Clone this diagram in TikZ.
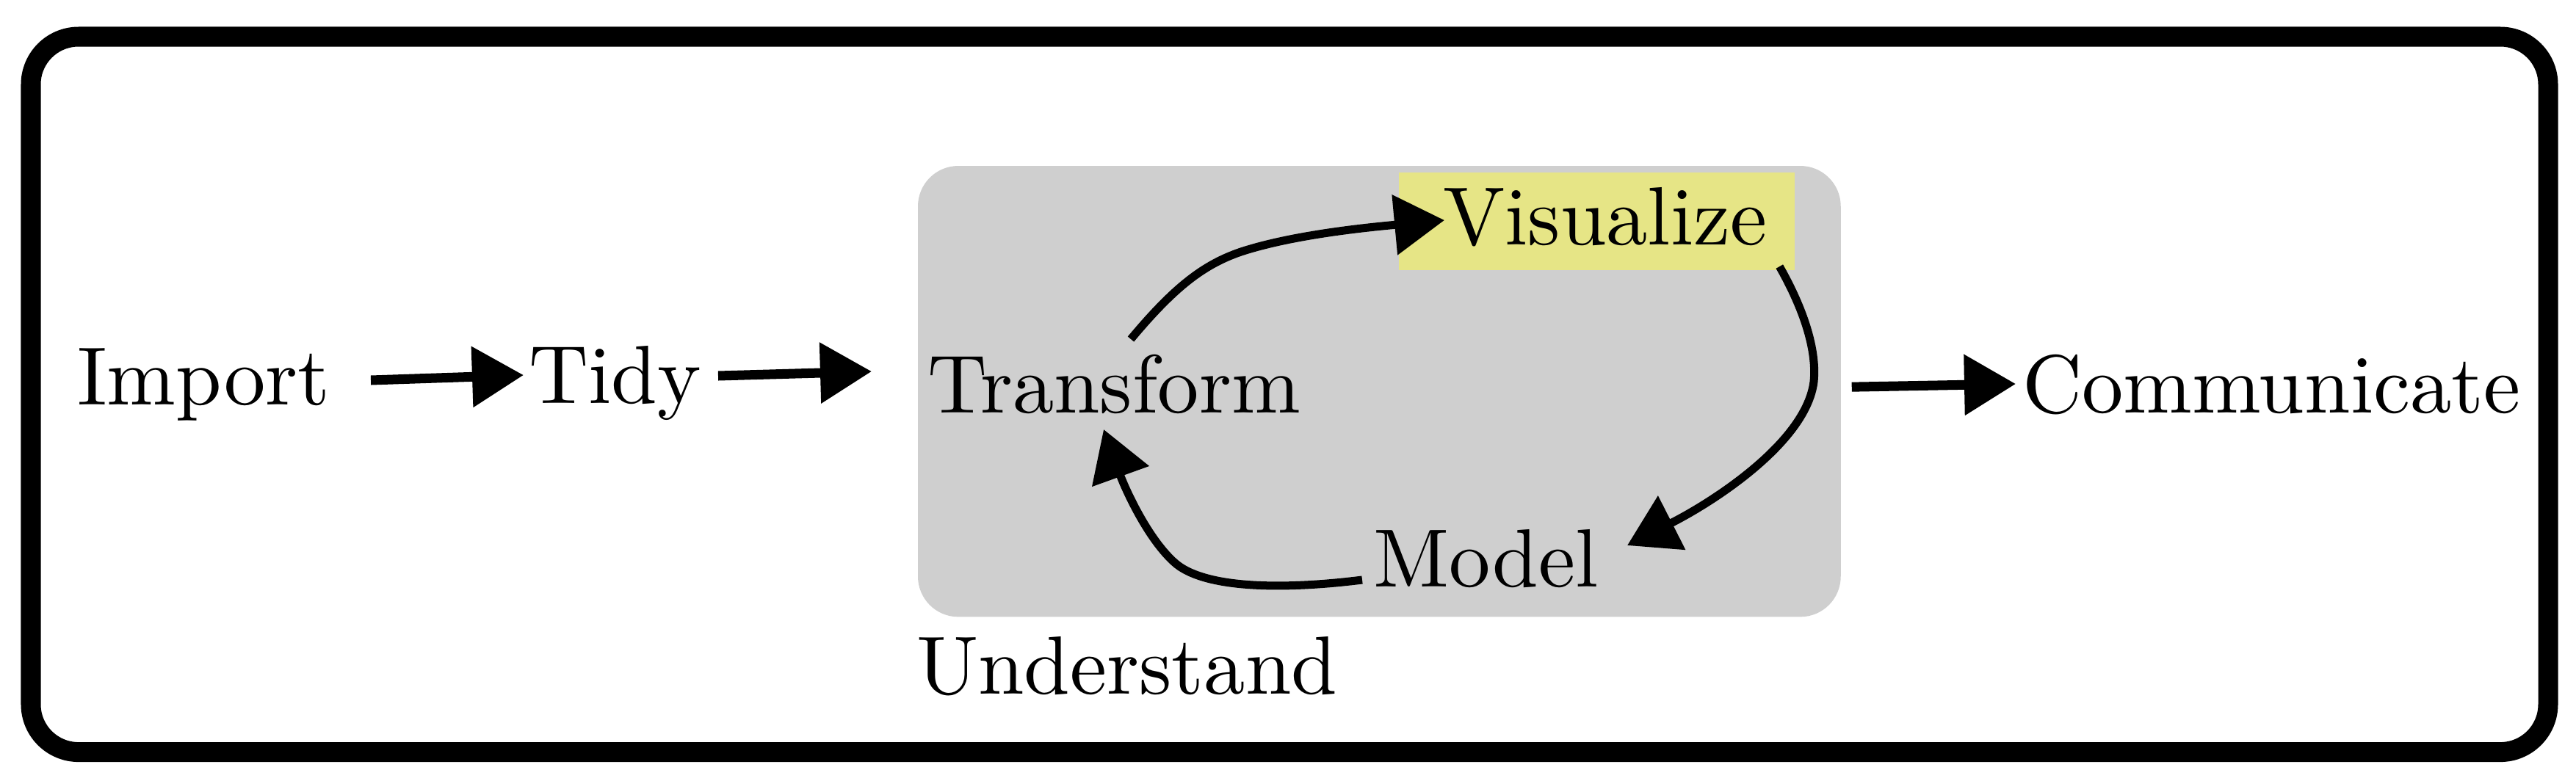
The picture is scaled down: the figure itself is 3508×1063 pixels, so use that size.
\documentclass[tikz,border=0pt]{standalone}
\usetikzlibrary{arrows.meta,calc}
\definecolor{boxgray}{RGB}{207,207,207}
\definecolor{visyellow}{RGB}{230,229,134}
\newcommand\lbtxt[1]{\scalebox{3.2}{\fontsize{10}{12}\selectfont #1}}
\begin{document}
\begin{tikzpicture}[x=0.01cm,y=-0.01cm,
  lbl/.style={inner sep=0pt, outer sep=0pt, anchor=base west},
  sarr/.style={line width=0.13cm, -{Triangle[length=0.7cm,width=0.8cm]}},
  carr/.style={line width=0.11cm, -{Triangle[length=0.68cm,width=0.8cm]}}]
\useasboundingbox (0,0) rectangle (3508,1063);
\node[draw, line width=0.27cm, rounded corners=0.65cm, minimum width=34.26cm, minimum height=9.74cm, inner sep=0pt, outer sep=0pt, anchor=north west] (frame) at (42,50) {};
\node[fill=boxgray, rounded corners=0.55cm, minimum width=12.56cm, minimum height=6.14cm, inner sep=0pt, outer sep=0pt, anchor=north west] (grp) at (1250,226) {};
\node[fill=visyellow, minimum width=5.39cm, minimum height=1.33cm, inner sep=0pt, outer sep=0pt, anchor=north west] (vis) at (1905,235) {};
\node[lbl] (imp) at (105,551) {\lbtxt{Import}};
\node[lbl] (tidy) at (720,549) {\lbtxt{Tidy}};
\node[lbl] (trans) at (1263,562) {\lbtxt{Transform}};
\node[lbl] (vislbl) at (1965,333) {\lbtxt{Visualize}};
\node[lbl] (model) at (1870,799) {\lbtxt{Model}};
\node[lbl] (comm) at (2754,562) {\lbtxt{Communicate}};
\node[lbl] (und) at (1248,945) {\lbtxt{Understand}};
\draw[sarr] ($(imp.base west)+(400,-33)$) -- ($(tidy.base west)+(-7,-38)$);
\draw[sarr] ($(tidy.base west)+(258,-37)$) -- ($(trans.base west)+(-76,-56)$);
\draw[carr] ($(trans.base west)+(277,-100)$) .. controls (1600,390) and (1640,360) .. (1690,343) .. controls (1760,320) and (1860,310) .. ($(vislbl.base west)+(2,-33)$);
\draw[carr] ($(vis.south east)+(-21,-5)$) .. controls (2450,410) and (2475,470) .. (2470,520) .. controls (2460,600) and (2340,680) .. ($(model.base west)+(346,-56)$);
\draw[carr] ($(model.base west)+(-15,-9)$) .. controls (1760,802) and (1640,805) .. (1598,765) .. controls (1560,730) and (1530,660) .. ($(trans.base west)+(240,23)$);
\draw[sarr] ($(grp.east)+(15,-6)$) -- ($(comm.base west)+(-9,-39)$);
\end{tikzpicture}
\end{document}
